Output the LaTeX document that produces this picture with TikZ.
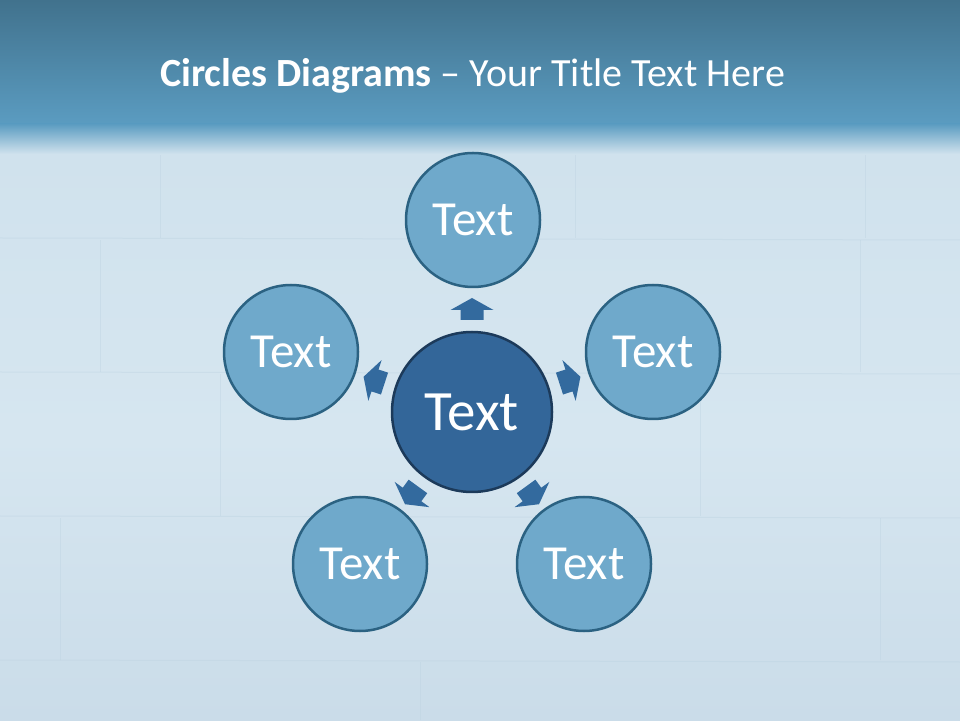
\documentclass[tikz,border=0pt]{standalone}
\usepackage{fontspec}
\setmainfont{Carlito}
\begin{document}
\begin{tikzpicture}[x=1pt,y=1pt,
  outer/.style={circle,draw=ringblue,line width=2.5pt,fill=outerblue,minimum size=134pt,inner sep=0pt,text=white,font=\fontsize{49}{49}\selectfont},
  inner/.style={circle,draw=navy,line width=2.5pt,fill=midblue,minimum size=160pt,inner sep=0pt,text=white,font=\fontsize{57}{57}\selectfont},
  blockarr/.style={fill=arrowblue,draw=none}]
\definecolor{ringblue}{HTML}{2B6282}
\definecolor{outerblue}{HTML}{6FA9CB}
\definecolor{navy}{HTML}{1C3A5A}
\definecolor{midblue}{HTML}{336699}
\definecolor{arrowblue}{HTML}{336A9E}
\definecolor{bandtop}{HTML}{41728D}
\definecolor{bandbot}{HTML}{5B9CC1}
\definecolor{ice}{HTML}{D6E6F0}
\definecolor{icetop}{HTML}{D0E2ED}
\definecolor{icedark}{HTML}{CADCE9}
\definecolor{seam}{HTML}{BCD2E1}
\useasboundingbox (0,0) rectangle (960,720);
% background
\shade[top color=icetop,bottom color=icedark,middle color=ice] (0,0) rectangle (960,568);
\shade[top color=bandtop,bottom color=bandbot] (0,595) rectangle (960,720);
\shade[top color=bandbot,bottom color=icetop] (0,566) rectangle (960,596);
% faint ice block seams
\begin{scope}[draw=seam,line width=1pt,opacity=0.4]
\draw (0,482) -- (960,480);
\draw (0,348) -- (960,346);
\draw (0,204) -- (960,202);
\draw (0,60) -- (960,58);
\draw (160,482) -- (160,565);
\draw (575,482) -- (575,565);
\draw (865,482) -- (865,565);
\draw (100,348) -- (100,480);
\draw (860,348) -- (860,480);
\draw (220,204) -- (220,346);
\draw (700,204) -- (700,346);
\draw (60,60) -- (60,202);
\draw (880,60) -- (880,202);
\draw (420,0) -- (420,58);
\end{scope}
% title
\node[anchor=base west,inner sep=0pt,text=white,font=\fontsize{40}{40}\selectfont] (title) at (160,633) {\textbf{Circles Diagrams} – Your Title Text Here};
% circles
\node[inner] (c) at (472,308) {Text};
\node[outer] (t) at (473,500) {Text};
\node[outer] (r) at (653,368) {Text};
\node[outer] (l) at (291,368) {Text};
\node[outer] (bl) at (360,156) {Text};
\node[outer] (br) at (584,156) {Text};
% block arrows
\foreach \ang in {90,18,-54,-126,162}{
  \begin{scope}[shift={(c.center)},rotate=\ang]
    \fill[blockarr] (92,-11.5) -- (102,-11.5) -- (102,-21.5) -- (114,0) -- (102,21.5) -- (102,11.5) -- (92,11.5) -- cycle;
  \end{scope}
}
\end{tikzpicture}
\end{document}
